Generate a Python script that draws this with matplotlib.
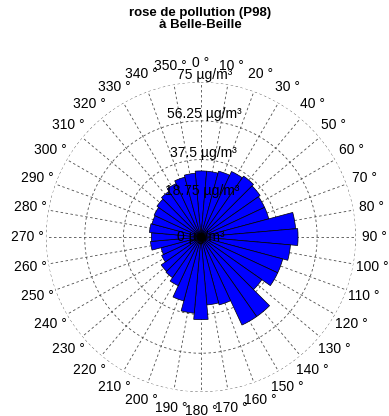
import numpy as np
import matplotlib.pyplot as plt

plt.rcParams['font.family'] = ['Liberation Sans', 'DejaVu Sans']

# directions (deg, clockwise from north) and P98 concentrations (µg/m³)
directions = np.arange(0, 360, 10)
p98 = [32, 32, 33, 35, 36, 35, 34, 34, 46, 47,
       43.5, 41, 41, 36, 47, 47, 34, 33, 40, 37,
       32, 26, 24, 23.5, 21, 20, 24.5, 24, 25, 24.5,
       25, 26, 27, 28.5, 30, 31]
rings = [0, 18.75, 37.5, 56.25, 75]
rmax = 75
title = 'rose de pollution (P98)\nà Belle-Beille'

fig = plt.figure(figsize=(3.89, 4.16), dpi=100)
ax = fig.add_axes([0.118, 0.0577, 0.797, 0.745], projection='polar')
ax.set_theta_zero_location('N')
ax.set_theta_direction(-1)
ax.set_ylim(0, rmax)
ax.axis('off')

dash = (0, (3, 3))
grid_col = '0.3'

# radial spokes every 10 degrees
for d in directions:
    th = np.deg2rad(d)
    ax.plot([th, th], [0, rmax], ls=dash, color=grid_col, lw=0.6, zorder=1)

# concentric rings
tt = np.linspace(0, 2 * np.pi, 361)
for r in rings[1:]:
    ax.plot(tt, np.full_like(tt, r), ls=dash, color=grid_col, lw=0.6, zorder=1)

# pollution rose bars
ax.bar(np.deg2rad(directions), p98, width=np.deg2rad(10),
       color='#0000ff', edgecolor='black', linewidth=0.5, zorder=2)
ax.plot([0], [0], 'o', color='black', ms=5, zorder=3)

# ring labels
for r in rings:
    lab = '%g µg/m³' % r
    if r == 0:
        ax.text(0, 0, lab, ha='center', va='center', fontsize=10, zorder=4)
    else:
        ax.text(np.deg2rad(1.5), r, lab, ha='center', va='bottom',
                fontsize=10, zorder=4)

# direction labels
for d in directions:
    ax.text(np.deg2rad(d), rmax * 1.12, '%d °' % d, ha='center',
            va='center', fontsize=10, clip_on=False)

fig.suptitle(title, x=0.515, y=0.982, fontsize=9.5, fontweight='bold',
             linespacing=1.0)

plt.savefig('out.png', dpi=100)
plt.close()
